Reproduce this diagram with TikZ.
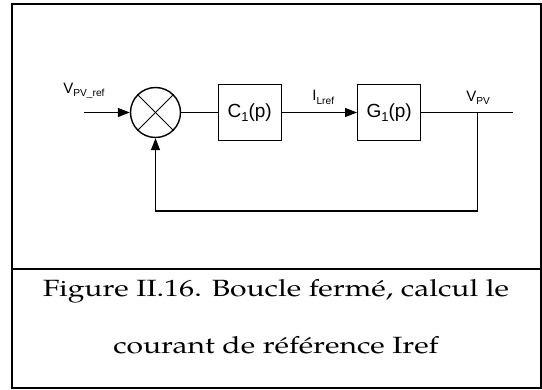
\documentclass[tikz,border=0pt]{standalone}
\usepackage{fontspec}
\setsansfont{Liberation Sans}
\newfontfamily\capfont[FakeStretch=1.28]{TeX Gyre Pagella}
\usetikzlibrary{arrows.meta}
\newcommand{\sbs}[1]{\raisebox{-0.22em}{\fontsize{0.68\dimexpr\fontdimen6\font}{1}\selectfont #1}}
\begin{document}
\begin{tikzpicture}[x=1pt,y=-1pt,line width=1.3pt,
  frameline/.style={line width=2pt},
  block/.style={draw,line width=1.4pt,minimum width=63pt,minimum height=56pt,inner sep=0pt,
    font=\sffamily\fontsize{19}{19}\selectfont},
  lbl/.style={anchor=base west,inner sep=0pt,font=\sffamily\fontsize{15}{15}\selectfont},
  arr/.style={-{Triangle[length=12pt,width=9pt]}},
  captxt/.style={anchor=base,inner sep=0pt,font=\capfont\fontsize{23.5}{27}\selectfont}]
\useasboundingbox (0,0) rectangle (542,390);
% frame
\draw[frameline] (11.7,3.7) rectangle (541,388.5);
\draw[frameline] (11.7,269) -- (541,269);
% summing junction
\node[circle,draw,line width=1.4pt,minimum size=50pt,inner sep=0pt] (sum) at (155.5,112.5) {};
\draw[line width=0.8pt] (sum.north west) -- (sum.south east);
\draw[line width=0.8pt] (sum.north east) -- (sum.south west);
% blocks
\node[block] (c1) at (249.7,112.5) {C\sbs{1}(p)};
\node[block] (g1) at (389.2,112.5) {G\sbs{1}(p)};
% coordinates
\coordinate (in) at (84,112.5);
\coordinate (out) at (512.7,112.5);
\coordinate (br) at (477.3,112.5);
\coordinate (fb) at (477.3,211);
% connectors
\draw[arr] (in) -- (sum.west);
\draw (sum.east) -- (c1.west);
\draw[arr] (c1.east) -- (g1.west);
\draw (g1.east) -- (out);
\draw[arr] (br) -- (fb) -| (sum.south);
% labels
\node[lbl] (lvref) at (62.7,93.3) {V\sbs{PV\_ref}};
\node[lbl] (lil) at (311.7,101) {I\sbs{Lref}};
\node[lbl] (lvpv) at (465.7,101.7) {V\sbs{PV}};
% caption
\node[captxt] (cap1) at (276,297) {Figure II.16. Boucle fermé, calcul le};
\node[captxt] (cap2) at (276,354) {courant de référence Iref};
\end{tikzpicture}
\end{document}
